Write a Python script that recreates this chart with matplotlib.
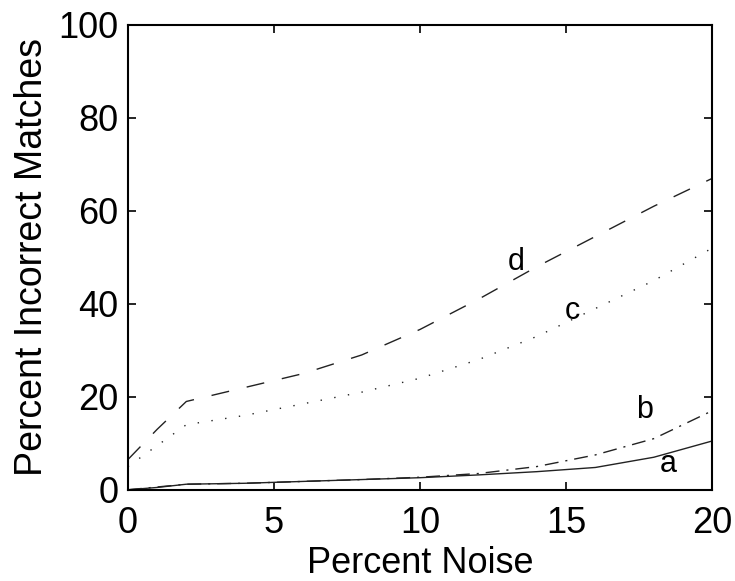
import matplotlib
matplotlib.use("Agg")
import matplotlib.pyplot as plt

plt.rcParams['font.family'] = ['Liberation Sans', 'DejaVu Sans']

# percent noise
noise = [0, 1, 2, 4, 6, 8, 10, 12, 14, 16, 18, 20]
# percent incorrect matches for each method
curve_a = [0, 0.5, 1.2, 1.4, 1.8, 2.2, 2.6, 3.2, 3.9, 4.8, 7.0, 10.5]
curve_b = [0, 0.6, 1.2, 1.4, 1.8, 2.2, 2.7, 3.5, 5.0, 7.5, 11.0, 17.0]
curve_c = [5, 9.5, 14, 16, 18.5, 21, 24, 28, 33, 39, 45, 52]
curve_d = [6.5, 13, 19, 22, 25, 29, 34.5, 41, 48, 54.5, 61, 67]

fig = plt.figure(figsize=(7.35, 5.81), dpi=100)
ax = fig.add_axes([0.174, 0.157, 0.795, 0.8])

ax.plot(noise, curve_a, color='#222222', lw=1.0, ls='-')
ax.plot(noise, curve_b, color='#222222', lw=1.0, ls=(0, (10, 5, 1.5, 5)))
ax.plot(noise, curve_c, color='#222222', lw=1.0, ls=(0, (1, 9)))
ax.plot(noise, curve_d, color='#222222', lw=1.0, ls=(0, (13, 13)))

# curve labels
ax.text(13.3, 49, 'd', fontsize=22, ha='center', va='center')
ax.text(15.2, 38.5, 'c', fontsize=22, ha='center', va='center')
ax.text(17.7, 17.2, 'b', fontsize=22, ha='center', va='center')
ax.text(18.5, 5.6, 'a', fontsize=22, ha='center', va='center')

ax.set_xlim(0, 20)
ax.set_ylim(0, 100)
ax.set_xticks([0, 5, 10, 15, 20])
ax.set_yticks([0, 20, 40, 60, 80, 100])
ax.tick_params(direction='in', top=True, right=True, labelsize=26, length=6, width=1.2)
ax.tick_params(axis='y', pad=7)
ax.tick_params(axis='x', pad=12)
for s in ax.spines.values():
    s.set_linewidth(1.5)

ax.set_xlabel('Percent Noise', fontsize=26, labelpad=3)
ax.set_ylabel('Percent Incorrect Matches', fontsize=27, labelpad=6)

fig.savefig('out.png', dpi=100)
